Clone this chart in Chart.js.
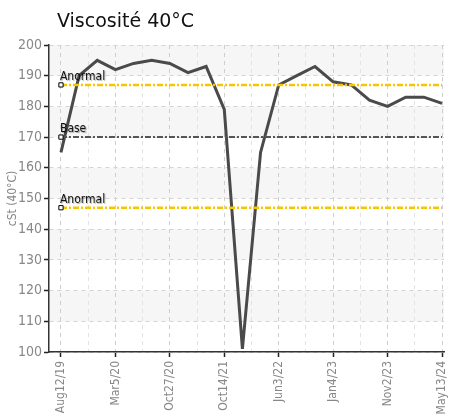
<!DOCTYPE html>
<html>
<head>
<meta charset="utf-8">
<script src="https://cdn.jsdelivr.net/npm/chart.js@4/dist/chart.umd.min.js"></script>
<style>
  body { margin: 0; background: #fff; }
  #wrap { position: relative; width: 449px; height: 415px; }
  #wrap canvas { position: absolute; left: 0; top: 0; }
  #title { position: absolute; left: 57px; top: 9px; font: 19px "DejaVu Sans", sans-serif; color: #111; line-height: 22px; z-index: 2; }
</style>
</head>
<body>
<div id="wrap">
  <div id="title">Viscosité 40°C</div>
  <canvas id="myGraph" width="449" height="415"></canvas>
</div>
<script>
// values
var tickLabels = ["Aug12/19", "Mar5/20", "Oct27/20", "Oct14/21", "Jun3/22", "Jan4/23", "Nov2/23", "May13/24"];
var viscosity = [165, 190, 195, 192, 194, 195, 194, 191, 193, 179, 101, 165, 187, 190, 193, 188, 187, 182, 180, 183, 183, 181];
var refNames = ["Anormal", "Base", "Anormal"];
var refValues = [187, 170, 147];
var refColors = ["#f7c600", "#555555", "#f7c600"];
var shadedBands = [[190, 200], [170, 180], [150, 160], [130, 140], [110, 120]];

var narrow = "'Liberation Sans Narrow', 'DejaVu Sans Condensed', 'Roboto Condensed', sans-serif";
var lastIdx = viscosity.length - 1;

var graph = document.getElementById("myGraph").getContext("2d");

var datasets = [];
for (var i = 0; i < refValues.length; i++) {
  datasets.push({
    label: refNames[i],
    data: [{x: 0, y: refValues[i]}, {x: lastIdx, y: refValues[i]}],
    borderColor: refColors[i],
    borderWidth: i == 1 ? 2 : 2.5,
    borderDash: [6, 2, 2, 2],
    pointStyle: "rect",
    pointRadius: ctx => ctx.dataIndex == 0 ? 3 : 0,
    pointBackgroundColor: "#fff",
    pointBorderColor: "#000",
    pointBorderWidth: 1,
    order: 0
  });
}
datasets.push({
  label: "cSt (40°C)",
  data: viscosity.map((v, i) => ({x: i, y: v})),
  borderColor: "#4a4a4a",
  borderWidth: 3,
  pointRadius: 0,
  tension: 0,
  order: 1
});

// light grey bands behind the grid
var bandPlugin = {
  id: "bands",
  beforeDraw(chart) {
    var ctx = chart.ctx, area = chart.chartArea, y = chart.scales.y;
    ctx.save();
    ctx.fillStyle = "#f6f6f6";
    shadedBands.forEach(b => {
      var top = y.getPixelForValue(b[1]), bot = y.getPixelForValue(b[0]);
      ctx.fillRect(area.left, top, area.right - area.left, bot - top);
    });
    ctx.restore();
  }
};

// "Anormal" / "Base" captions on the reference lines
var refLabelPlugin = {
  id: "refLabels",
  afterDatasetsDraw(chart) {
    var ctx = chart.ctx, x = chart.scales.x, y = chart.scales.y;
    ctx.save();
    ctx.font = "12px " + narrow;
    ctx.fillStyle = "#111";
    ctx.textBaseline = "alphabetic";
    ctx.shadowColor = "rgba(0,0,0,0.35)";
    ctx.shadowOffsetX = 1;
    ctx.shadowOffsetY = 1;
    ctx.shadowBlur = 1;
    for (var i = 0; i < refValues.length; i++) {
      ctx.fillText(refNames[i], x.getPixelForValue(0) - 1, y.getPixelForValue(refValues[i]) - 5);
    }
    ctx.restore();
  }
};

new Chart(graph, {
  type: "line",
  data: { datasets: datasets },
  options: {
    responsive: false,
    animation: false,
    layout: { padding: { top: 45, right: 4, left: 0, bottom: 0 } },
    plugins: { legend: { display: false }, tooltip: { enabled: false } },
    scales: {
      x: {
        type: "linear",
        min: -0.66,
        max: 21.11,
        afterBuildTicks: scale => {
          var t = [];
          for (var k = 0; k <= 14; k++) t.push({value: k * 1.5});
          scale.ticks = t;
        },
        afterFit: scale => {
          scale.height = 63;
          scale.paddingLeft = 0;
          scale.paddingRight = 0;
        },
        ticks: {
          autoSkip: false,
          minRotation: 90,
          maxRotation: 90,
          padding: 4,
          color: "#888",
          font: { size: 12, family: narrow },
          callback: v => (v % 3 == 0 ? tickLabels[v / 3] : "")
        },
        grid: {
          color: ctx => (ctx.tick && ctx.tick.value % 3 == 0 ? "#cfcfcf" : "#e2e2e2"),
          tickColor: ctx => (ctx.tick && ctx.tick.value % 3 == 0 ? "#222" : "rgba(0,0,0,0)"),
          tickLength: 5,
          tickWidth: 1.5,
          tickBorderDash: []
        },
        border: { color: "#333", width: 1.5, dash: [4, 4] }
      },
      y: {
        min: 100,
        max: 200,
        afterFit: scale => {
          scale.width = 49;
          scale.paddingTop = 0;
          scale.paddingBottom = 0;
        },
        ticks: {
          stepSize: 10,
          padding: 2,
          color: "#888",
          font: { size: 14, family: narrow }
        },
        title: {
          display: true,
          text: "cSt (40°C)",
          color: "#888",
          font: { size: 12, family: narrow },
          padding: { top: 6, bottom: 0 }
        },
        grid: {
          color: "#d4d4d4",
          tickColor: "#222",
          tickLength: 5,
          tickWidth: 1.5,
          tickBorderDash: []
        },
        border: { color: "#333", width: 1.5, dash: [4, 4] }
      }
    }
  },
  plugins: [bandPlugin, refLabelPlugin]
});
</script>
</body>
</html>
